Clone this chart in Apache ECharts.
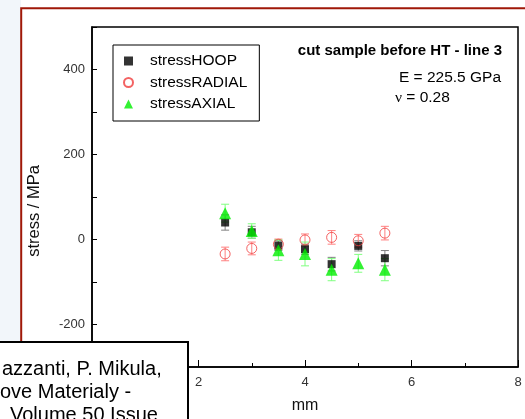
<!DOCTYPE html>
<html>
<head>
<meta charset="utf-8">
<script src="https://cdn.jsdelivr.net/npm/echarts@6/dist/echarts.min.js"></script>
<style>
  html, body { margin: 0; padding: 0; background: #fff; }
  #chart { width: 525px; height: 419px; }
</style>
</head>
<body>
<div id="chart"></div>
<script>
// positions along the line (mm)
var xPos = [2.5, 3, 3.5, 4, 4.5, 5, 5.5];

// stresses in MPa and their error bars
var hoopVals   = [40, 17, -14, -23, -58, -15, -44];
var hoopErr    = [18, 14, 12, 12, 16, 12, 18];
var radialVals = [-34, -21, -11, -1, 5, -3, 15];
var radialErr  = [16, 15, 12, 14, 16, 15, 16];
var axialVals  = [62, 20, -25, -34, -71, -56, -71];
var axialErr   = [21, 17, 24, 28, 26, 21, 26];

var seriesNames = ['stressHOOP', 'stressRADIAL', 'stressAXIAL'];
var citeLines = ['azzanti, P. Mikula,', 'ove Materialy -', 'Volume 50 Issue'];

var FONT = '"Liberation Sans", Arial, sans-serif';

function pts(vals) {
    var out = [];
    for (var i = 0; i < xPos.length; i++) out.push([xPos[i], vals[i]]);
    return out;
}
function errPts(vals, errs) {
    var out = [];
    for (var i = 0; i < xPos.length; i++) out.push([xPos[i], vals[i], errs[i]]);
    return out;
}

function errBar(color) {
    return function (params, api) {
        var x = api.value(0), y = api.value(1), e = api.value(2);
        var top = api.coord([x, y + e]);
        var bot = api.coord([x, y - e]);
        var w = 4;
        var st = { stroke: color, lineWidth: 1 };
        return {
            type: 'group',
            children: [
                { type: 'line', shape: { x1: top[0], y1: top[1], x2: bot[0], y2: bot[1] }, style: st },
                { type: 'line', shape: { x1: top[0] - w, y1: top[1], x2: top[0] + w, y2: top[1] }, style: st },
                { type: 'line', shape: { x1: bot[0] - w, y1: bot[1], x2: bot[0] + w, y2: bot[1] }, style: st }
            ]
        };
    };
}

var chart = echarts.init(document.getElementById('chart'));

var option = {
    animation: false,
    backgroundColor: '#fff',
    textStyle: { fontFamily: FONT },
    title: {
        text: 'cut sample before HT - line 3',
        right: 23,
        top: 43,
        padding: 0,
        textStyle: { fontSize: 15, fontWeight: 'bold', color: '#000', fontFamily: FONT }
    },
    legend: {
        data: seriesNames,
        orient: 'vertical',
        left: 113,
        top: 45,
        padding: [8, 12, 9, 10],
        itemGap: 5.5,
        itemWidth: 9,
        itemHeight: 9,
        borderColor: '#000',
        borderWidth: 1,
        backgroundColor: '#fff',
        textStyle: { fontSize: 15.5, color: '#000', lineHeight: 14, padding: [0, 0, 0, 12], fontFamily: FONT }
    },
    grid: {
        left: 92, right: 7, top: 27, bottom: 44,
        show: true,
        borderColor: '#000',
        borderWidth: 1.5,
        backgroundColor: 'transparent'
    },
    xAxis: {
        type: 'value',
        min: 0, max: 8, interval: 2,
        name: 'mm',
        nameLocation: 'middle',
        nameGap: 31,
        nameTextStyle: { fontSize: 16, color: '#111' },
        axisLine: { onZero: false, lineStyle: { color: '#000', width: 1.5 } },
        axisTick: { inside: true, length: 7, lineStyle: { color: '#000' } },
        minorTick: { show: true, splitNumber: 2, length: 4, lineStyle: { color: '#000' } },
        axisLabel: { fontSize: 13, color: '#333', margin: 9 },
        splitLine: { show: false }
    },
    yAxis: {
        type: 'value',
        min: -300, max: 500, interval: 100,
        name: 'stress / MPa',
        nameLocation: 'middle',
        nameGap: 49,
        nameTextStyle: { fontSize: 16.5, color: '#111', padding: [0, 28, 0, 0] },
        axisLine: { onZero: false, lineStyle: { color: '#000', width: 1.5 } },
        axisTick: { inside: true, length: 5, lineStyle: { color: '#000' } },
        axisLabel: {
            fontSize: 13, color: '#333', margin: 7,
            formatter: function (v) { return v % 200 === 0 ? String(v) : ''; }
        },
        splitLine: { show: false }
    },
    series: [
        {
            type: 'custom', name: 'hoopErr', renderItem: errBar('#808080'),
            data: errPts(hoopVals, hoopErr), encode: { x: 0, y: 1 }, z: 1
        },
        {
            type: 'custom', name: 'radialErr', renderItem: errBar('#ff8080'),
            data: errPts(radialVals, radialErr), encode: { x: 0, y: 1 }, z: 1
        },
        {
            type: 'custom', name: 'axialErr', renderItem: errBar('#80ff80'),
            data: errPts(axialVals, axialErr), encode: { x: 0, y: 1 }, z: 1
        },
        {
            type: 'scatter', name: seriesNames[0], data: pts(hoopVals),
            symbol: 'rect', symbolSize: 8,
            itemStyle: { color: '#000' }, z: 2
        },
        {
            type: 'scatter', name: seriesNames[1], data: pts(radialVals),
            symbol: 'circle', symbolSize: 10,
            itemStyle: { color: 'rgba(255,255,255,0)', borderColor: '#f03c3c', borderWidth: 1 }, z: 3
        },
        {
            type: 'scatter', name: seriesNames[2], data: pts(axialVals),
            symbol: 'triangle', symbolSize: 12,
            itemStyle: { color: '#00ee00' }, z: 4
        }
    ],
    graphic: [
        // faint blue strip at the left edge
        { type: 'rect', left: 0, top: 0, shape: { width: 21, height: 419 }, style: { fill: '#f2f6fa' }, z: -10, silent: true },
        // dark red outer frame
        { type: 'rect', shape: { x: 21.2, y: 8.2, width: 520, height: 500 }, style: { fill: 'none', stroke: '#a01808', lineWidth: 2 }, z: -9, silent: true },
        {
            type: 'text', x: 501, y: 78, z: 10,
            style: { text: 'E = 225.5 GPa', align: 'right', verticalAlign: 'middle', font: '15.5px ' + FONT, fill: '#000' }
        },
        {
            type: 'text', x: 395, y: 98, z: 10,
            style: {
                text: '{g|ν} = 0.28', verticalAlign: 'middle', fill: '#000',
                font: '15.5px ' + FONT,
                rich: { g: { fontFamily: '"Liberation Serif", serif', fontSize: 15.5 } }
            }
        },
        // citation box overlapping the lower left corner
        {
            type: 'group', zlevel: 1, z: 100,
            children: [
                { type: 'rect', zlevel: 1, shape: { x: -2, y: 342, width: 190, height: 90 }, style: { fill: '#fff', stroke: '#000', lineWidth: 2 } },
                { type: 'text', zlevel: 1, x: 2, y: 369, style: { text: citeLines[0], verticalAlign: 'middle', font: '20px ' + FONT, fill: '#000' } },
                { type: 'text', zlevel: 1, x: 0, y: 392, style: { text: citeLines[1], verticalAlign: 'middle', font: '20px ' + FONT, fill: '#000' } },
                { type: 'text', zlevel: 1, x: 10, y: 415, style: { text: citeLines[2], verticalAlign: 'middle', font: '20px ' + FONT, fill: '#000' } }
            ]
        }
    ]
};

chart.setOption(option);
</script>
</body>
</html>
